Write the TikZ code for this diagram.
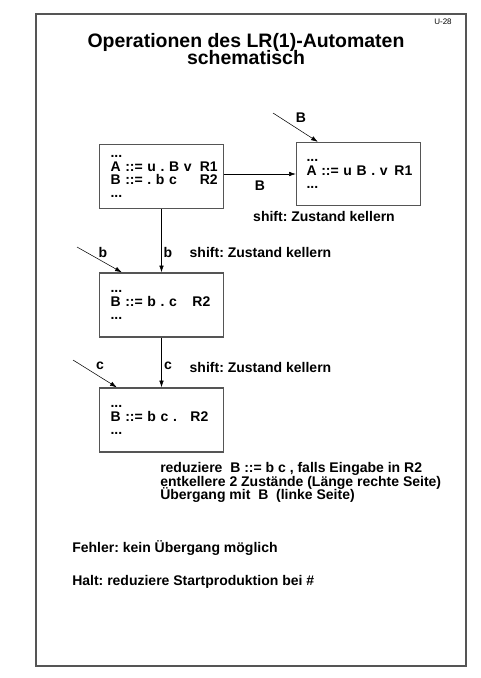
\documentclass[tikz,border=0pt]{standalone}
\usepackage{fontspec}
\setmainfont{Liberation Sans}
\usepackage{xcolor}
\usepackage{tikz}
\usetikzlibrary{arrows.meta,positioning,calc}

\definecolor{framegray}{RGB}{85,85,85}
\newcommand{\rline}[3][60pt]{\makebox[#1][l]{#2}#3}
\frenchspacing
\setlength{\lineskiplimit}{-6pt}

\begin{document}
\begin{tikzpicture}[x=0.75pt,y=-0.75pt,
    every node/.style={font=\bfseries\fontsize{10.5}{9.8}\selectfont},
    state/.style={draw=framegray,line width=0.95pt,rectangle,align=left,
      text width=76.5pt,inner xsep=8.25pt,minimum height=48pt},
    arr/.style={thin,-{Latex[length=1.8mm,width=1.2mm]}}]
  % page frame and title
  \useasboundingbox (0,0) rectangle (480,678);
  \draw[framegray,line width=1.2pt] (36,14) rectangle (466,666);
  \node[font=\fontsize{6}{6}\selectfont] (nr) at (443,22) {U-28};
  \node[align=center,font=\bfseries\fontsize{14.6}{13}\selectfont] (title) at (246,49)
    {Operationen des LR(1)-Automaten\\schematisch};
  % the four states
  \node[state] (q1) at (161.5,176.5)
    {...\\\rline[67pt]{A ::= u . B v}{R1}\\\rline[67pt]{B ::= . b c}{R2}\\...};
  \node[state,minimum height=47.25pt,text width=78pt,inner xsep=7.5pt] (q2) at (358.5,174)
    {...\\\rline[66pt]{A ::= u B . v}{R1}\\...};
  \node[state] (q3) at (161.5,305)
    {...\\\rline[61.5pt]{B ::= b . c}{R2}\\...};
  \node[state] (q4) at (161.5,420)
    {...\\\rline{B ::= b c .}{R2}\\...};
  % transitions
  \draw[arr] (q1.east |- q2.west) -- (q2.west);
  \node (lB) at (260,186) {B};
  \node (sh1) at (324,216) {shift: Zustand kellern};
  \draw[arr] (q1.south) -- (q3.north);
  \node (lb) at (168,252) {b};
  \node[anchor=west] (sh2) at (185,252) {shift: Zustand kellern};
  \draw[arr] (q3.south) -- (q4.north);
  \node (lc) at (168,366) {c};
  \node[anchor=west] (sh3) at (185,367) {shift: Zustand kellern};
  % incoming transitions
  \coordinate (inB) at (273,113);
  \coordinate (inb) at (77,247);
  \coordinate (inc) at (73,360);
  \draw[arr] (inB) -- ($(q2.north west)+(22,0)$);
  \node (iB) at (301,118) {B};
  \draw[arr] (inb) -- ($(q3.north west)+(23,0)$);
  \node (ib) at (103,252) {b};
  \draw[arr] (inc) -- ($(q4.north west)+(18,0)$);
  \node (ic) at (100,366) {c};
  % reduce, error, halt
  \node[anchor=north west,align=left,inner sep=0pt,
        font=\bfseries\fontsize{10.5}{10.2}\selectfont] (red) at (160,462)
    {reduziere\ \ B ::= b c , falls Eingabe in R2\\
     entkellere 2 Zust\"ande (L\"ange rechte Seite)\\
     \"Ubergang mit\ \ B\ \ (linke Seite)};
  \node[anchor=west,inner sep=0pt] (err) at (72,548) {Fehler: kein \"Ubergang m\"oglich};
  \node[anchor=west,inner sep=0pt] (halt) at (72,582) {Halt: reduziere Startproduktion bei \#};
\end{tikzpicture}
\end{document}
